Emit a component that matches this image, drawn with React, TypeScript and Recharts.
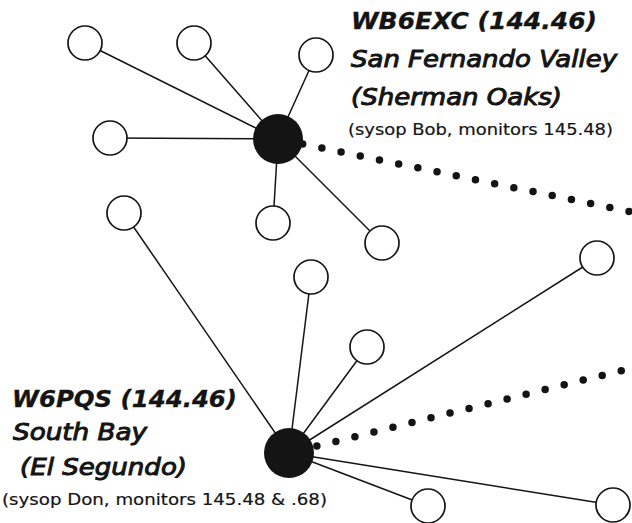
import React from "react";
import { ScatterChart, Scatter, XAxis, YAxis, Customized } from "recharts";

// repeater hubs and their users, positions as drawn on the page
const hubs = [
  { name: "WB6EXC", x: 278, y: 139 },
  { name: "W6PQS", x: 289, y: 453 },
];
const valleyUsers = [
  { x: 85, y: 43 },
  { x: 194, y: 43 },
  { x: 316, y: 55 },
  { x: 110, y: 138 },
  { x: 273, y: 223 },
  { x: 382, y: 243 },
];
const southBayUsers = [
  { x: 124, y: 213 },
  { x: 311, y: 277 },
  { x: 367, y: 347 },
  { x: 597, y: 258 },
  { x: 428, y: 506 },
  { x: 613, y: 505 },
];
// where the dotted backbone links leave the page
const linkEnds = [
  { x: 632, y: 212 },
  { x: 632, y: 368 },
];

const valleyLabel = [
  "WB6EXC (144.46)",
  "San Fernando Valley",
  "(Sherman Oaks)",
  "(sysop Bob, monitors 145.48)",
];
const southBayLabel = [
  "W6PQS (144.46)",
  "South Bay",
  "(El Segundo)",
  "(sysop Don, monitors 145.48 & .68)",
];

const W = 632;
const H = 523;
const INK = "#141414";

const noShape = () => <g />;

const UserNode = (p: any) => (
  <circle cx={p.cx} cy={p.cy} r={17} fill="#fff" stroke={INK} strokeWidth={1.7} />
);
const HubNode = (p: any) => <circle cx={p.cx} cy={p.cy} r={25} fill={INK} />;

const textStyles = [
  { size: 23.5, weight: "bold", stroke: 0.3 },
  { size: 23.5, weight: "normal", stroke: 1 },
  { size: 23.5, weight: "normal", stroke: 1 },
  { size: 16, weight: "normal", stroke: 0.2, upright: true },
];
const valleyPlace = [
  { x: 351, y: 29, w: 246 },
  { x: 351, y: 67, w: 266 },
  { x: 351, y: 105, w: 211 },
  { x: 348, y: 135, w: 265 },
];
const southBayPlace = [
  { x: 12, y: 407, w: 225 },
  { x: 13, y: 440, w: 134 },
  { x: 20, y: 475, w: 167 },
  { x: 2, y: 505, w: 325 },
];

function LabelBlock({ lines, place }: { lines: string[]; place: { x: number; y: number; w: number }[] }) {
  return (
    <g fontFamily="DejaVu Sans, sans-serif" fill={INK}>
      {lines.map((t, i) => {
        const s = textStyles[i];
        return (
          <text
            key={i}
            x={place[i].x}
            y={place[i].y}
            fontSize={s.size}
            fontWeight={s.weight}
            fontStyle={s.upright ? "normal" : "italic"}
            stroke={s.stroke ? INK : "none"}
            strokeWidth={s.stroke}
            textLength={place[i].w}
            lengthAdjust="spacingAndGlyphs"
          >
            {t}
          </text>
        );
      })}
    </g>
  );
}

export default function App() {
  const groups = [
    { hub: hubs[0], users: valleyUsers, end: linkEnds[0], offset: 14 },
    { hub: hubs[1], users: southBayUsers, end: linkEnds[1], offset: 10.5 },
  ];
  return (
    <div style={{ position: "absolute", left: 0, top: 0, width: W, height: H, background: "#fff" }}>
      <ScatterChart width={W} height={H} margin={{ top: 0, right: 0, bottom: 0, left: 0 }}>
        <XAxis type="number" dataKey="x" domain={[0, W]} allowDataOverflow hide />
        <YAxis type="number" dataKey="y" domain={[0, H]} allowDataOverflow reversed hide />

        {groups.map((g, gi) =>
          g.users.map((u, ui) => (
            <Scatter
              key={`e${gi}-${ui}`}
              data={[g.hub, u]}
              line={{ stroke: INK, strokeWidth: 1.5 }}
              shape={noShape}
              isAnimationActive={false}
            />
          ))
        )}

        {groups.map((g, gi) => (
          <Scatter
            key={`l${gi}`}
            data={[g.hub, g.end]}
            line={{
              stroke: INK,
              strokeWidth: 7.5,
              strokeLinecap: "round",
              strokeDasharray: "0 19.6",
              strokeDashoffset: g.offset,
            }}
            shape={noShape}
            isAnimationActive={false}
          />
        ))}

        <Scatter data={valleyUsers} shape={UserNode} isAnimationActive={false} />
        <Scatter data={southBayUsers} shape={UserNode} isAnimationActive={false} />
        <Scatter data={hubs} shape={HubNode} isAnimationActive={false} />

        <Customized
          component={() => (
            <g>
              <LabelBlock lines={valleyLabel} place={valleyPlace} />
              <LabelBlock lines={southBayLabel} place={southBayPlace} />
            </g>
          )}
        />
      </ScatterChart>
    </div>
  );
}
